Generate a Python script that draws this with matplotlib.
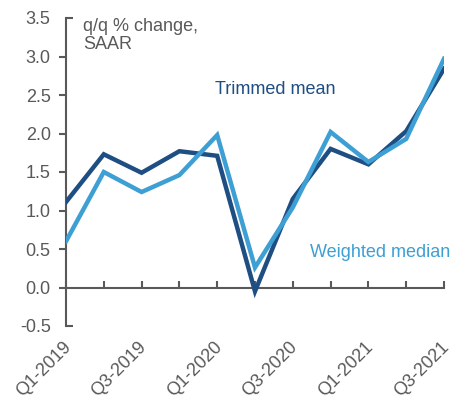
import matplotlib
matplotlib.use('Agg')
import matplotlib.pyplot as plt
import matplotlib.lines as mlines
import matplotlib.transforms as mtransforms

plt.rcParams['font.family'] = ['Liberation Sans', 'DejaVu Sans']

# quarterly core inflation measures, q/q % change SAAR
quarters = ['Q1-2019', 'Q2-2019', 'Q3-2019', 'Q4-2019', 'Q1-2020', 'Q2-2020',
            'Q3-2020', 'Q4-2020', 'Q1-2021', 'Q2-2021', 'Q3-2021']
trimmed_mean = [1.11, 1.73, 1.49, 1.77, 1.71, -0.05, 1.15, 1.80, 1.60, 2.03, 2.84]
weighted_median = [0.60, 1.50, 1.24, 1.46, 1.98, 0.26, 1.04, 2.02, 1.63, 1.93, 2.97]
yticks = [-0.5, 0.0, 0.5, 1.0, 1.5, 2.0, 2.5, 3.0, 3.5]

navy = '#1F4E83'
light = '#3D9FD3'
grey = '#595959'
fs = 13

fig = plt.figure(figsize=(4.67, 4.0), dpi=100)
ax = fig.add_axes([0.1413, 0.185, 0.8094, 0.77])

x = list(range(len(quarters)))
ax.plot(x, trimmed_mean, color=navy, lw=3.2, solid_joinstyle='miter', zorder=3)
ax.plot(x, weighted_median, color=light, lw=3.2, solid_joinstyle='miter', zorder=4)

ax.set_xlim(0, len(quarters) - 1)
ax.set_ylim(-0.5, 3.5)

for s in ['top', 'right']:
    ax.spines[s].set_visible(False)
ax.spines['left'].set_color(grey)
ax.spines['bottom'].set_color(grey)
ax.spines['left'].set_linewidth(1.5)
ax.spines['bottom'].set_linewidth(1.5)
ax.spines['bottom'].set_position(('data', 0))

ax.set_yticks(yticks)
ax.set_yticklabels(['%.1f' % v for v in yticks], fontsize=fs, color=grey)
ax.tick_params(axis='y', direction='out', length=5, width=1.5, color=grey, pad=6)
# end ticks point into the plot
yt = ax.yaxis.get_major_ticks()
for t in (yt[0], yt[-1]):
    t.tick1line.set_marker(mlines.TICKRIGHT)

ax.set_xticks(x)
ax.set_xticklabels([])
ax.tick_params(axis='x', direction='in', length=5, width=1.5, color=grey)

trans = mtransforms.blended_transform_factory(ax.transData, ax.transAxes)
for i in range(0, len(quarters), 2):
    ax.text(i - 0.1, -0.04, quarters[i], transform=trans, rotation=45,
            ha='right', va='top', fontsize=fs, color=grey, rotation_mode='anchor')

ax.text(0.045, 1.0, 'q/q % change,\nSAAR', transform=ax.transAxes,
        ha='left', va='top', fontsize=fs, color=grey, linespacing=1.05)
ax.text(5.53, 2.57, 'Trimmed mean', ha='center', va='center', fontsize=fs, color=navy)
ax.text(8.31, 0.45, 'Weighted median', ha='center', va='center', fontsize=fs, color=light)

fig.savefig('out.png', dpi=100)
